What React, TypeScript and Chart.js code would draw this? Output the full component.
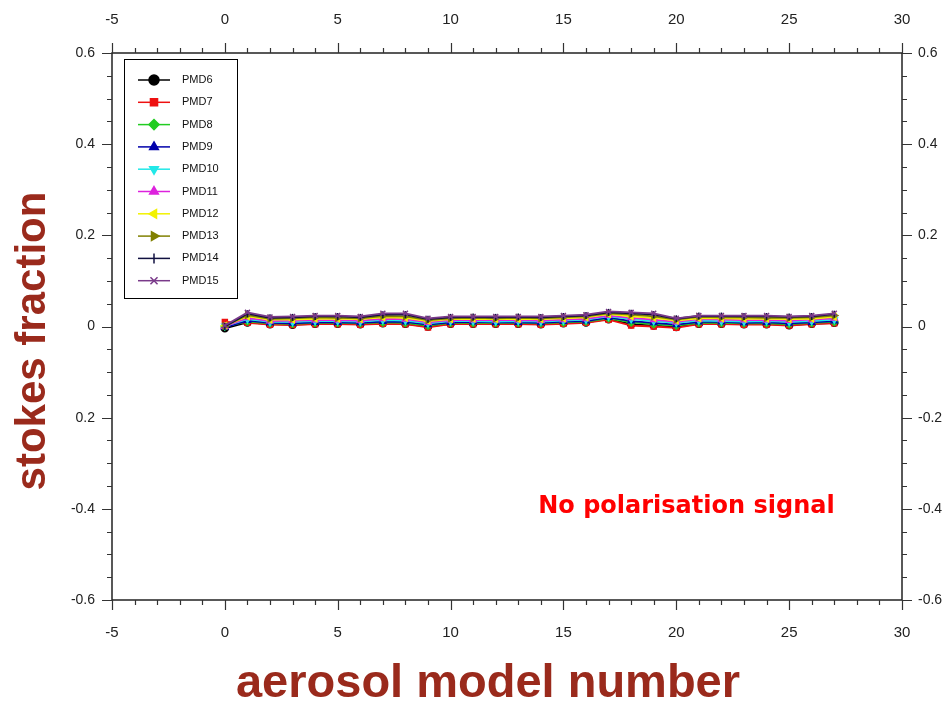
import React, { useEffect, useRef } from "react";
import { Chart, registerables } from "chart.js";
import { drawPoint } from "chart.js/helpers";

Chart.register(...registerables);

const xValues = [0, 1, 2, 3, 4, 5, 6, 7, 8, 9, 10, 11, 12, 13, 14, 15, 16, 17, 18, 19, 20, 21, 22, 23, 24, 25, 26, 27];

const seriesNames = ["PMD6", "PMD7", "PMD8", "PMD9", "PMD10", "PMD11", "PMD12", "PMD13", "PMD14", "PMD15"];

const pmd6 = [-0.004, 0.009, 0.005, 0.004, 0.006, 0.006, 0.005, 0.007, 0.006, 0.0, 0.006, 0.006, 0.006, 0.006, 0.005, 0.007, 0.009, 0.016, 0.005, 0.002, -0.001, 0.006, 0.006, 0.005, 0.005, 0.003, 0.006, 0.008];
const pmd7 = [0.01, 0.008, 0.004, 0.003, 0.005, 0.005, 0.004, 0.006, 0.005, -0.002, 0.005, 0.005, 0.005, 0.005, 0.004, 0.006, 0.008, 0.015, 0.002, 0.0, -0.003, 0.005, 0.005, 0.004, 0.004, 0.002, 0.005, 0.007];
const pmd8 = [0.0, 0.011, 0.007, 0.006, 0.008, 0.008, 0.007, 0.009, 0.008, 0.002, 0.008, 0.008, 0.008, 0.008, 0.007, 0.009, 0.011, 0.018, 0.009, 0.005, 0.002, 0.008, 0.008, 0.007, 0.007, 0.005, 0.008, 0.01];
const pmd9 = [-0.002, 0.013, 0.008, 0.007, 0.009, 0.009, 0.008, 0.011, 0.01, 0.004, 0.009, 0.01, 0.009, 0.009, 0.008, 0.011, 0.012, 0.02, 0.012, 0.008, 0.004, 0.01, 0.01, 0.008, 0.009, 0.007, 0.009, 0.012];
const pmd10 = [0.001, 0.016, 0.01, 0.01, 0.012, 0.012, 0.011, 0.014, 0.013, 0.007, 0.012, 0.012, 0.011, 0.012, 0.011, 0.013, 0.015, 0.022, 0.016, 0.012, 0.008, 0.013, 0.012, 0.011, 0.012, 0.01, 0.012, 0.015];
const pmd11 = [0.0, 0.019, 0.012, 0.013, 0.014, 0.014, 0.013, 0.017, 0.016, 0.009, 0.014, 0.014, 0.014, 0.014, 0.013, 0.015, 0.017, 0.024, 0.019, 0.015, 0.01, 0.016, 0.015, 0.014, 0.014, 0.013, 0.015, 0.018];
const pmd12 = [0.002, 0.022, 0.015, 0.015, 0.017, 0.017, 0.016, 0.02, 0.019, 0.012, 0.016, 0.017, 0.016, 0.016, 0.016, 0.018, 0.02, 0.027, 0.022, 0.019, 0.013, 0.018, 0.018, 0.017, 0.017, 0.016, 0.017, 0.021];
const pmd13 = [0.001, 0.025, 0.017, 0.018, 0.02, 0.019, 0.018, 0.023, 0.022, 0.014, 0.018, 0.019, 0.018, 0.019, 0.018, 0.02, 0.022, 0.029, 0.026, 0.022, 0.015, 0.021, 0.02, 0.02, 0.019, 0.019, 0.02, 0.024];
const pmd14 = [0.0, 0.028, 0.019, 0.02, 0.022, 0.022, 0.02, 0.026, 0.026, 0.016, 0.02, 0.021, 0.02, 0.021, 0.02, 0.022, 0.024, 0.031, 0.029, 0.026, 0.017, 0.023, 0.023, 0.022, 0.022, 0.021, 0.022, 0.027];
const pmd15 = [0.002, 0.031, 0.021, 0.022, 0.024, 0.024, 0.022, 0.029, 0.029, 0.018, 0.022, 0.022, 0.022, 0.022, 0.022, 0.024, 0.026, 0.033, 0.031, 0.029, 0.018, 0.024, 0.024, 0.024, 0.024, 0.022, 0.024, 0.029];

const seriesValues = [pmd6, pmd7, pmd8, pmd9, pmd10, pmd11, pmd12, pmd13, pmd14, pmd15];
const seriesColors = ["#000000", "#ee1111", "#22cc22", "#0000aa", "#22e8e8", "#dd22dd", "#f2f200", "#808000", "#101040", "#7a3a8a"];
const seriesStyles = ["circle", "rect", "rectRot", "triangle", "triangle", "triangle", "triangle", "triangle", "line", "crossRot"];
const seriesRotations = [0, 0, 0, 0, 180, 0, -90, 90, 90, 0];

const xTickMin = -5;
const xTickMax = 30;
const yTickMin = -0.6;
const yTickMax = 0.6;

const annotationText = "No polarisation signal";
const xTitle = "aerosol model number";
const yTitle = "stokes fraction";

const TITLE_COLOR = "#9a2a1c";
const SANS = '"Liberation Sans", Arial, sans-serif';
const WIDE = '"DejaVu Sans", Verdana, sans-serif';

const fmt = (v: number) => {
  const r = Math.round(v * 10) / 10;
  return r === 0 ? "0" : String(r);
};

const decorPlugin = {
  id: "decor",
  afterDraw(chart: any) {
    const { ctx, chartArea, scales } = chart;
    const xs = scales.x;
    const ys = scales.y;
    ctx.save();
    ctx.strokeStyle = "#222";
    ctx.lineWidth = 1.5;
    ctx.strokeRect(chartArea.left, chartArea.top, chartArea.right - chartArea.left, chartArea.bottom - chartArea.top);
    ctx.lineWidth = 1.2;
    ctx.strokeStyle = "#333";
    ctx.beginPath();
    for (let v = xTickMin; v <= xTickMax; v++) {
      const px = Math.round(xs.getPixelForValue(v)) + 0.5;
      const len = v % 5 === 0 ? 10 : 5;
      ctx.moveTo(px, chartArea.top);
      ctx.lineTo(px, chartArea.top - len);
      ctx.moveTo(px, chartArea.bottom);
      ctx.lineTo(px, chartArea.bottom + len);
    }
    for (let i = -12; i <= 12; i++) {
      const py = Math.round(ys.getPixelForValue(i * 0.05)) + 0.5;
      const len = i % 4 === 0 ? 10 : 5;
      ctx.moveTo(chartArea.left, py);
      ctx.lineTo(chartArea.left - len, py);
      ctx.moveTo(chartArea.right, py);
      ctx.lineTo(chartArea.right + len, py);
    }
    ctx.stroke();

    // legend box
    const bx = 124, by = 59, bw = 113, bh = 239;
    ctx.fillStyle = "#ffffff";
    ctx.fillRect(bx, by, bw, bh);
    ctx.strokeStyle = "#000";
    ctx.lineWidth = 1;
    ctx.strokeRect(bx + 0.5, by + 0.5, bw, bh);
    ctx.font = `11px ${SANS}`;
    ctx.textBaseline = "middle";
    ctx.textAlign = "left";
    seriesNames.forEach((name, i) => {
      const y = by + 21 + i * 22.3;
      ctx.strokeStyle = seriesColors[i];
      ctx.fillStyle = seriesColors[i];
      ctx.lineWidth = 1.5;
      ctx.beginPath();
      ctx.moveTo(bx + 14, y);
      ctx.lineTo(bx + 46, y);
      ctx.stroke();
      drawPoint(ctx, { pointStyle: seriesStyles[i] as any, rotation: seriesRotations[i], radius: 5, borderWidth: 1.5 }, bx + 30, y);
      ctx.fillStyle = "#111";
      ctx.fillText(name, bx + 58, y);
    });

    // annotation
    ctx.fillStyle = "#ff0000";
    ctx.font = `bold 24px ${WIDE}`;
    ctx.textAlign = "center";
    ctx.textBaseline = "middle";
    ctx.fillText(annotationText, xs.getPixelForValue(20.45), ys.getPixelForValue(-0.395));

    // titles
    ctx.fillStyle = TITLE_COLOR;
    ctx.font = `bold 47px ${SANS}`;
    ctx.textAlign = "center";
    ctx.textBaseline = "middle";
    ctx.fillText(xTitle, 488, 684);
    ctx.save();
    ctx.translate(33, 341);
    ctx.rotate(-Math.PI / 2);
    ctx.font = `bold 42px ${SANS}`;
    ctx.fillText(yTitle, 0, 0);
    ctx.restore();
    ctx.restore();
  },
};

export default function App() {
  const ref = useRef<HTMLCanvasElement | null>(null);
  useEffect(() => {
    document.body.style.margin = "0";
    const canvas = ref.current!;
    const datasets = seriesNames.map((name, i) => ({
      label: name,
      data: xValues.map((x, j) => ({ x, y: seriesValues[i][j] })),
      borderColor: seriesColors[i],
      backgroundColor: seriesColors[i],
      pointStyle: seriesStyles[i] as any,
      pointRotation: seriesRotations[i],
      pointRadius: 3.5,
      pointBorderWidth: 1.5,
      borderWidth: 1.8,
      order: seriesNames.length - i,
      xAxisID: "x",
      yAxisID: "y",
    }));
    const xTickOpts = (padding: number) => ({
      stepSize: 5,
      padding,
      color: "#222",
      font: { family: SANS, size: 15 },
      maxRotation: 0,
      autoSkip: false,
    });
    const yTickOpts = (padding: number, left: boolean) => ({
      stepSize: 0.2,
      padding,
      color: "#222",
      font: { family: SANS, size: 14 },
      callback: (v: any) => {
        const s = fmt(Number(v));
        if (left && Math.abs(Number(v) + 0.2) < 1e-6) return "0.2";
        return s;
      },
    });
    const chart = new Chart(canvas, {
      type: "line",
      data: { datasets },
      options: {
        animation: false,
        responsive: false,
        layout: { padding: 0 },
        plugins: { legend: { display: false }, tooltip: { enabled: false } },
        scales: {
          x: {
            type: "linear",
            position: "bottom",
            min: xTickMin,
            max: xTickMax,
            grid: { display: false, drawTicks: false },
            border: { display: false },
            ticks: xTickOpts(24),
            afterFit: (s: any) => { s.height = 103; },
          },
          x2: {
            type: "linear",
            position: "top",
            min: xTickMin,
            max: xTickMax,
            grid: { display: false, drawTicks: false },
            border: { display: false },
            ticks: xTickOpts(24),
            afterFit: (s: any) => { s.height = 53; },
          },
          y: {
            type: "linear",
            position: "left",
            min: yTickMin,
            max: yTickMax,
            grid: { display: false, drawTicks: false },
            border: { display: false },
            ticks: yTickOpts(17, true),
            afterFit: (s: any) => { s.width = 112; },
          },
          y2: {
            type: "linear",
            position: "right",
            min: yTickMin,
            max: yTickMax,
            grid: { display: false, drawTicks: false },
            border: { display: false },
            ticks: yTickOpts(16, false),
            afterFit: (s: any) => { s.width = 45; },
          },
        },
      },
      plugins: [decorPlugin],
    });
    return () => chart.destroy();
  }, []);
  return (
    <div style={{ width: 947, height: 703, background: "#fff" }}>
      <canvas ref={ref} width={947} height={703} style={{ display: "block" }} />
    </div>
  );
}
